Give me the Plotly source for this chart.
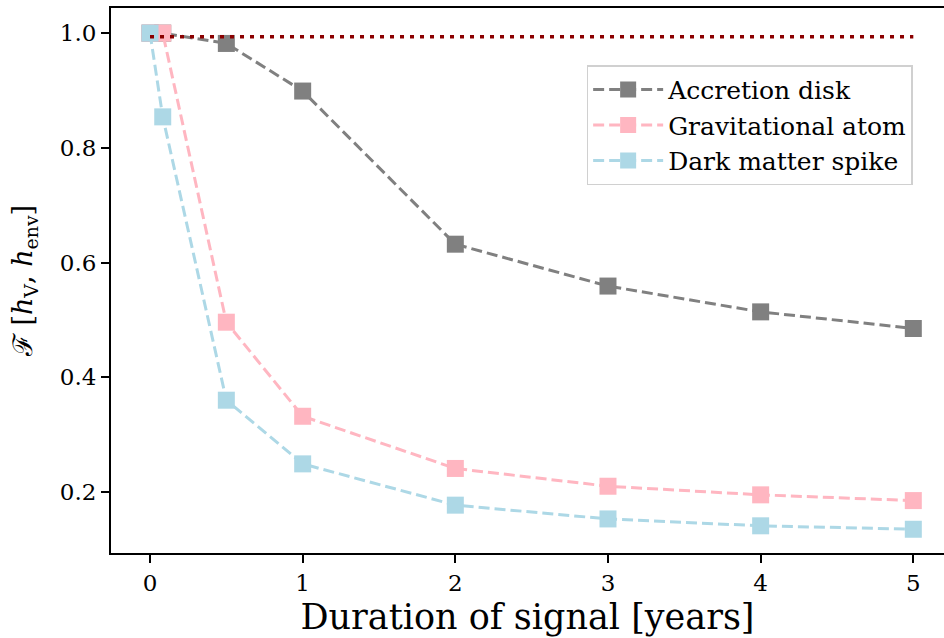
import plotly.graph_objects as go

years = [0, 1/12, 0.5, 1, 2, 3, 4, 5]
accretion_disk = [1.0, 1.0, 0.982, 0.899, 0.632, 0.559, 0.514, 0.485]
gravitational_atom = [1.0, 1.0, 0.496, 0.332, 0.241, 0.210, 0.195, 0.185]
dark_matter_spike = [1.0, 0.854, 0.360, 0.249, 0.177, 0.153, 0.141, 0.135]
threshold_x = [0, 5]
threshold_y = [0.9935, 0.9935]

series = [
    ("Accretion disk", accretion_disk, "#808080"),
    ("Gravitational atom", gravitational_atom, "#FFB6C1"),
    ("Dark matter spike", dark_matter_spike, "#ADD8E6"),
]

fig = go.Figure()
for name, vals, col in series:
    fig.add_trace(go.Scatter(
        x=years, y=vals, name=name, mode="lines+markers",
        line=dict(color=col, width=3, dash="11px,5px"),
        marker=dict(symbol="square", size=17, color=col, line=dict(width=0)),
    ))
fig.add_trace(go.Scatter(
    x=threshold_x, y=threshold_y, mode="lines", showlegend=False,
    line=dict(color="#8B0000", width=3.5, dash="4px,6px"),
))

font_serif = "DejaVu Serif"
fig.update_layout(
    width=944, height=638,
    margin=dict(l=111, r=0, t=8, b=85),
    plot_bgcolor="white", paper_bgcolor="white",
    font=dict(family=font_serif, color="black"),
    showlegend=True,
    legend=dict(
        x=0.571, y=0.895, xanchor="left", yanchor="top",
        bgcolor="rgba(255,255,255,0.8)", bordercolor="#d0d0d0", borderwidth=1.5,
        font=dict(family=font_serif, size=25, color="black"),
        tracegroupgap=2, itemwidth=70,
    ),
    xaxis=dict(
        range=[-0.2555, 5.201], tickmode="array", tickvals=[0, 1, 2, 3, 4, 5],
        ticktext=["0", "1", "2", "3", "4", "5"],
        showgrid=False, zeroline=False, showline=True, linecolor="black",
        linewidth=2, mirror=True, ticks="outside", ticklen=8, tickwidth=2,
        tickcolor="black",
        tickfont=dict(family=font_serif, size=23),
        title=dict(text="Duration of signal [years]",
                   font=dict(family=font_serif, size=35),
                   standoff=10),
    ),
    yaxis=dict(
        range=[0.0936, 1.0438], tickmode="array",
        tickvals=[0.2, 0.4, 0.6, 0.8, 1.0], tickformat=".1f",
        showgrid=False, zeroline=False, showline=True, linecolor="black",
        linewidth=2, mirror=False, ticks="outside", ticklen=8, tickwidth=2,
        tickcolor="black", tickfont=dict(family=font_serif, size=23),
        title=dict(text="ℱ [<i>h</i><sub>V</sub>, <i>h</i><sub>env</sub>]",
                   font=dict(family=font_serif, size=27), standoff=19),
    ),
)

fig.write_html("out.html")
